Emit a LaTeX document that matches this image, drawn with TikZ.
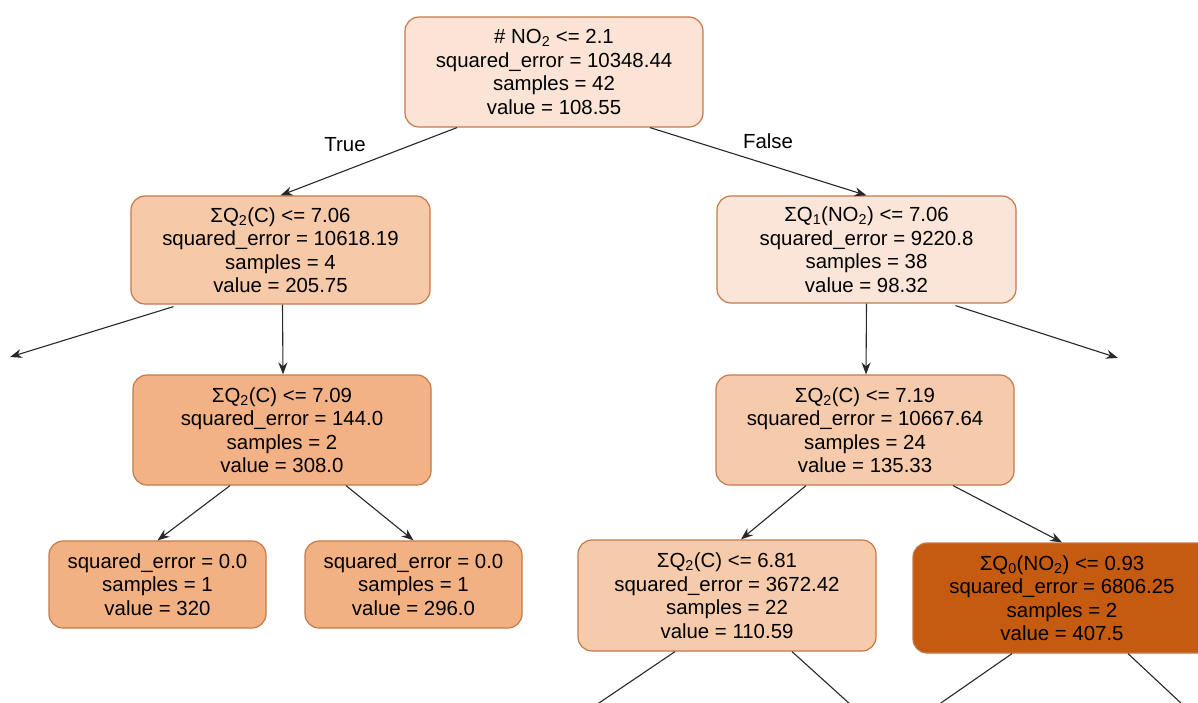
\documentclass[tikz,border=0pt]{standalone}
\usepackage{fontspec}
\setmainfont{Liberation Sans}
\usetikzlibrary{arrows.meta,calc}
\definecolor{bordc}{RGB}{196,122,74}
\definecolor{edgec}{RGB}{40,40,40}
\definecolor{c0}{RGB}{251,228,213}
\definecolor{c1}{RGB}{246,201,168}
\definecolor{c2}{RGB}{250,229,216}
\definecolor{c3}{RGB}{242,178,134}
\definecolor{c4}{RGB}{242,177,131}
\definecolor{c5}{RGB}{246,203,171}
\definecolor{c6}{RGB}{197,90,17}
\begin{document}
\begin{tikzpicture}[x=1pt,y=-1pt,
  box/.style={draw=bordc, line width=1.2pt, rounded corners=14pt, align=center,
    inner sep=0pt, font=\fontsize{20.4}{23.5}\selectfont, text=black,
    minimum width=298pt, minimum height=110pt},
  leaf/.style={box, minimum width=217pt, minimum height=87pt},
  edge/.style={draw=edgec, line width=1.1pt, -{Stealth[length=12pt,width=9pt]}},
  cut/.style={draw=edgec, line width=1.1pt},
  lbl/.style={font=\fontsize{20.4}{23.5}\selectfont, inner sep=0pt}]
\useasboundingbox[fill=white] (0,0) rectangle (1198,702);

\node[box, fill=c0] (root) at (554,72) {\# NO\textsubscript{2} <= 2.1\\squared\_error = 10348.44\\samples = 42\\value = 108.55};
\node[box, fill=c1, minimum width=299pt, minimum height=108pt] (L1) at (280.5,250) {ΣQ\textsubscript{2}(C) <= 7.06\\squared\_error = 10618.19\\samples = 4\\value = 205.75};
\node[box, fill=c2, minimum width=299pt, minimum height=107pt] (R1) at (866.5,249.5) {ΣQ\textsubscript{1}(NO\textsubscript{2}) <= 7.06\\squared\_error = 9220.8\\samples = 38\\value = 98.32};
\node[box, fill=c3] (L2) at (282,430) {ΣQ\textsubscript{2}(C) <= 7.09\\squared\_error = 144.0\\samples = 2\\value = 308.0};
\node[leaf, fill=c4] (LL) at (157.5,584.5) {squared\_error = 0.0\\samples = 1\\value = 320};
\node[leaf, fill=c4] (LR) at (413.5,584.5) {squared\_error = 0.0\\samples = 1\\value = 296.0};
\node[box, fill=c5] (R2) at (865,430) {ΣQ\textsubscript{2}(C) <= 7.19\\squared\_error = 10667.64\\samples = 24\\value = 135.33};
\node[box, fill=c5, minimum height=111pt] (RL) at (727,595.5) {ΣQ\textsubscript{2}(C) <= 6.81\\squared\_error = 3672.42\\samples = 22\\value = 110.59};
\node[box, fill=c6] (RR) at (1062,598) {ΣQ\textsubscript{0}(NO\textsubscript{2}) <= 0.93\\squared\_error = 6806.25\\samples = 2\\value = 407.5};

\node[lbl] (tl) at (345,145) {True};
\node[lbl] (fl) at (768,141) {False};

\coordinate (offL) at (10,357);
\coordinate (offR) at (1118,358);
\coordinate (b1) at (596,705);
\coordinate (b2) at (851,705);
\coordinate (b3) at (938,705);
\coordinate (b4) at (1183,705);

\draw[edge] ($(root.south)+(-97,0)$) -- (L1.north);
\draw[edge] ($(root.south)+(96,0)$) -- (R1.north);
\draw[edge] ($(L1.south)+(-107,2)$) -- (offL);
\draw[edge] ($(L1.south)+(2,0)$) -- ($(L2.north)+(1,0)$);
\draw[edge] ($(L2.south)+(-52,0)$) -- (LL.north);
\draw[edge] ($(L2.south)+(64,0)$) -- (LR.north);
\draw[edge] (R1.south) -- ($(R2.north)+(1,0)$);
\draw[edge] ($(R1.south)+(89,2)$) -- (offR);
\draw[edge] ($(R2.south)+(-59,0)$) -- ($(RL.north)+(14,0)$);
\draw[edge] ($(R2.south)+(88,0)$) -- (RR.north);
\draw[cut] ($(RL.south)+(-52,0)$) -- (b1);
\draw[cut] ($(RL.south)+(65,0)$) -- (b2);
\draw[cut] ($(RR.south)+(-50,0)$) -- (b3);
\draw[cut] ($(RR.south)+(66,0)$) -- (b4);
\end{tikzpicture}
\end{document}
